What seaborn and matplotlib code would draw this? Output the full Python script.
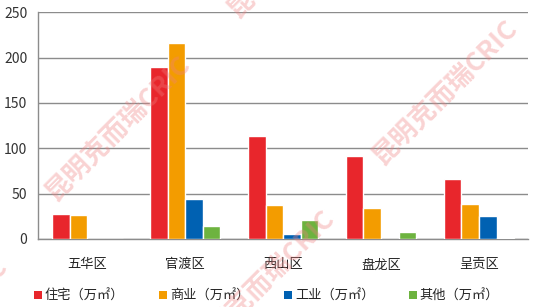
import matplotlib
matplotlib.use("Agg")
import matplotlib.pyplot as plt
import seaborn as sns
import pandas as pd
from matplotlib.patches import Patch

districts = ["五华区", "官渡区", "西山区", "盘龙区", "呈贡区"]
series = ["住宅（万㎡）", "商业（万㎡）", "工业（万㎡）", "其他（万㎡）"]
residential = [28, 190, 114, 91, 66]
commercial = [26.5, 216.5, 38, 34, 39]
industrial = [0, 44, 5, 0, 25.5]
other = [0.5, 14, 21, 7.5, 1.5]
colors = ["#E8262C", "#F39C00", "#0061B2", "#6DB33F"]

rows = []
for s, vals in zip(series, [residential, commercial, industrial, other]):
    for d, v in zip(districts, vals):
        rows.append({"district": d, "series": s, "value": v})
df = pd.DataFrame(rows)

sns.set_style("white")
plt.rcParams['font.family'] = ['Noto Sans CJK SC', 'DejaVu Sans']

fig = plt.figure(figsize=(5.33, 3.07), dpi=100)
ax = fig.add_axes([0.0719, 0.2215, 0.9187, 0.7385])

sns.barplot(data=df, x="district", y="value", hue="series", palette=colors,
            width=0.72, ax=ax, saturation=1, legend=False, zorder=3)

ax.set_ylim(0, 250)
ax.set_xlim(-0.5, 4.5)
ax.set_yticks([0, 50, 100, 150, 200, 250])
ax.yaxis.grid(True, color="#8c8c8c", linewidth=1.0, zorder=0)
ax.xaxis.grid(False)
ax.set_axisbelow(True)
for side in ["top", "right"]:
    ax.spines[side].set_visible(False)
for side in ["left", "bottom"]:
    ax.spines[side].set_color("#8c8c8c")
    ax.spines[side].set_linewidth(1.0)
ax.set_xlabel("")
ax.set_ylabel("")
ax.tick_params(axis="y", length=0, labelsize=10, pad=8, colors="#333333")
ax.tick_params(axis="x", length=0, labelsize=9.5, pad=14, colors="#222222")
ax.set_xticks(range(len(districts)))
ax.set_xticks([i - 0.5 for i in range(len(districts) + 1)], minor=True)
ax.tick_params(axis="x", which="minor", length=5, color="#8c8c8c", width=1)

handles = [Patch(facecolor=c, edgecolor="none") for c in colors]
fig.legend(handles, series, loc="center", bbox_to_anchor=(0.5, 0.035), ncol=4,
           frameon=False, fontsize=9.5, handlelength=0.6, handleheight=0.6,
           handletextpad=0.25, columnspacing=2.6, borderaxespad=0)

wm = "昆明克而瑞CRIC"
for (x, y) in [(445, 92), (118, 128), (300, -55), (262, 282), (-65, 330)]:
    fig.text(x / 533, 1 - y / 307, wm, rotation=45, ha="center", va="center",
             fontsize=19, color="#F08080", alpha=0.35, fontweight="bold", zorder=10)

fig.savefig("out.png", dpi=100)
